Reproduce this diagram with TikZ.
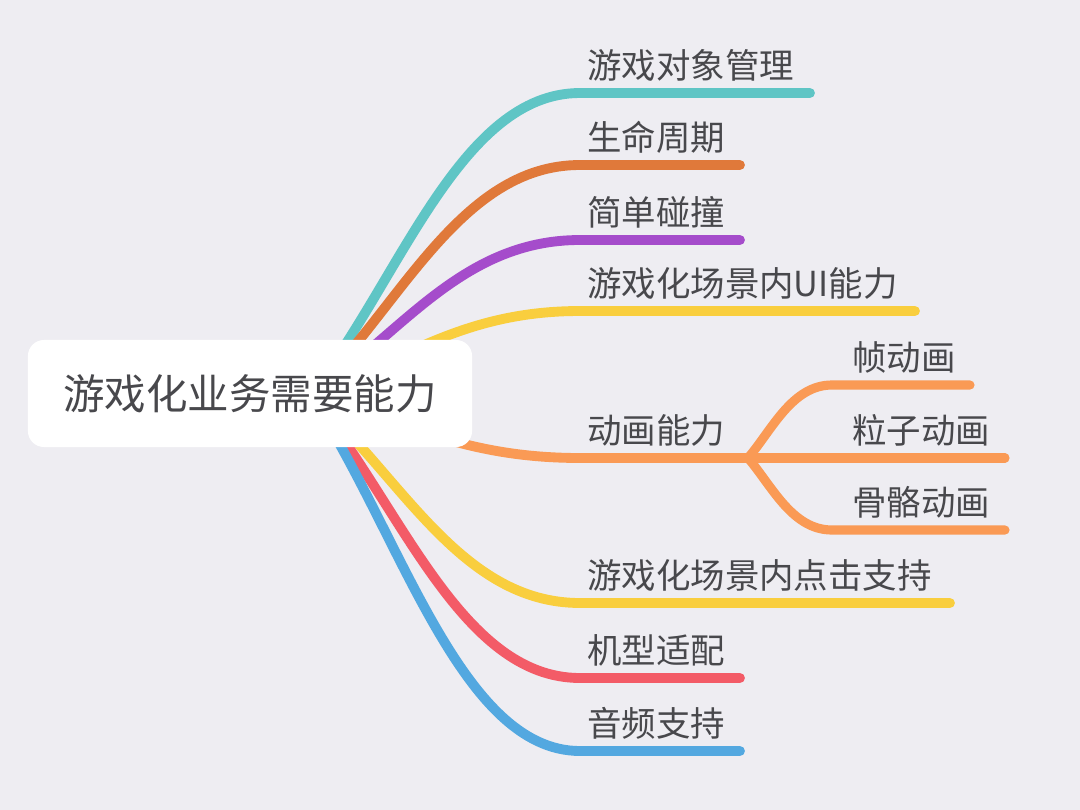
\documentclass[tikz,border=0pt]{standalone}
\usepackage{fontspec}
\newfontfamily\cjk{Noto Sans CJK SC}
\usepackage{tikz}
\usetikzlibrary{positioning}
\definecolor{bggrey}{RGB}{238,237,242}
\definecolor{textgrey}{RGB}{72,72,76}
\definecolor{tealline}{RGB}{95,197,197}
\definecolor{rustline}{RGB}{224,121,58}
\definecolor{purpleline}{RGB}{165,76,203}
\definecolor{yellowline}{RGB}{249,206,62}
\definecolor{peachline}{RGB}{250,154,85}
\definecolor{redline}{RGB}{243,91,103}
\definecolor{blueline}{RGB}{83,168,224}
\tikzset{
mainbox/.style = {rectangle, fill=white, rounded corners=0.4cm, minimum width=11.1cm, minimum height=2.675cm, text=textgrey, font=\cjk\fontsize{29.5}{32}\selectfont},
leaf/.style = {anchor=base west, inner sep=0pt, text=textgrey, font=\cjk\fontsize{24.5}{27}\selectfont},
twig/.style = {line width=7pt, line cap=round},
subtwig/.style = {line width=6.5pt, line cap=round, color=peachline}
}
\begin{document}
\begin{tikzpicture}[x=0.025cm, y=-0.025cm]
    \fill[bggrey] (0,0) rectangle (1080,810);
    \coordinate (o) at (310,395);

    % main branches
    \coordinate (e1) at (810,93);
    \coordinate (e2) at (740,165);
    \coordinate (e3) at (740,240);
    \coordinate (e4) at (915,311);
    \coordinate (hub) at (748,458);
    \coordinate (e6) at (950,603);
    \coordinate (e7) at (740,678);
    \coordinate (e8) at (740,751);
    \draw[twig, tealline] (o) .. controls (400,280) and (460,93) .. (580,93) -- (e1);
    \draw[twig, rustline] (o) .. controls (400,308) and (460,165) .. (580,165) -- (e2);
    \draw[twig, purpleline] (o) .. controls (400,337) and (460,240) .. (580,240) -- (e3);
    \draw[twig, yellowline] (o) .. controls (400,363) and (460,311) .. (580,311) -- (e4);
    \draw[twig, peachline] (o) .. controls (400,419) and (460,458) .. (580,458) -- (hub);
    \draw[twig, yellowline] (o) .. controls (400,474) and (460,603) .. (580,603) -- (e6);
    \draw[twig, redline] (o) .. controls (400,503) and (460,678) .. (580,678) -- (e7);
    \draw[twig, blueline] (o) .. controls (400,531) and (460,751) .. (580,751) -- (e8);

    % animation sub-branches
    \coordinate (s1) at (970,385);
    \coordinate (s2) at (1005,458);
    \coordinate (s3) at (1005,530);
    \draw[subtwig] (hub) .. controls (772,430) and (792,385) .. (832,385) -- (s1);
    \draw[subtwig] (hub) -- (s2);
    \draw[subtwig] (hub) .. controls (772,486) and (792,530) .. (832,530) -- (s3);

    \node[mainbox] (root) at (250,393.5) {游戏化业务需要能力};

    \node[leaf] (n1) at (587,78) {游戏对象管理};
    \node[leaf] (n2) at (587,150) {生命周期};
    \node[leaf] (n3) at (587,225) {简单碰撞};
    \node[leaf] (n4) at (587,296) {游戏化场景内UI能力};
    \node[leaf] (n5) at (587,443) {动画能力};
    \node[leaf] (n6) at (587,588) {游戏化场景内点击支持};
    \node[leaf] (n7) at (587,663) {机型适配};
    \node[leaf] (n8) at (587,736) {音频支持};
    \node[leaf] (m1) at (852,370) {帧动画};
    \node[leaf] (m2) at (852,443) {粒子动画};
    \node[leaf] (m3) at (852,515) {骨骼动画};
\end{tikzpicture}
\end{document}
